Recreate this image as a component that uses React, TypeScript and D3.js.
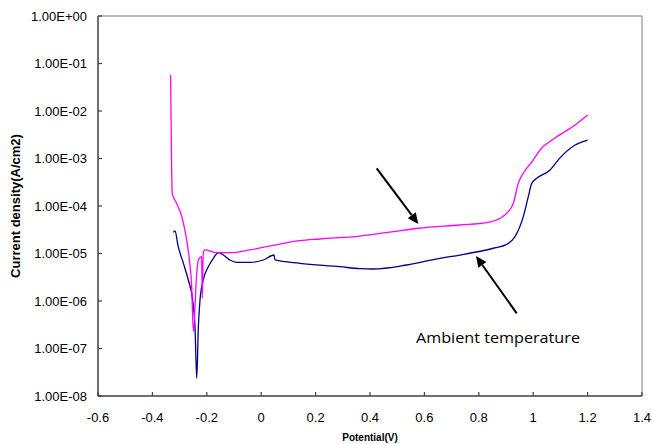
import React from "react";
import * as d3 from "d3";

const pinkPotential = [-0.333, -0.327, -0.311, -0.292, -0.276, -0.264, -0.2555, -0.2496, -0.237, -0.231, -0.219, -0.2166, -0.213, -0.2066, -0.1636, -0.115, -0.041, 0.02, 0.1415, 0.216, 0.363, 0.486, 0.578, 0.731, 0.829, 0.878, 0.9085, 0.927, 0.945, 0.9636, 1.0, 1.025, 1.08, 1.154, 1.2];
const pinkCurrent = [5.7e-2, 1.85e-4, 1.14e-4, 5.96e-5, 2.26e-5, 7.3e-6, 2.0e-6, 2.26e-7, 3.83e-6, 7.3e-6, 8.57e-6, 1.14e-6, 1.04e-5, 1.19e-5, 1.04e-5, 1.04e-5, 1.19e-5, 1.39e-5, 1.86e-5, 2.02e-5, 2.33e-5, 2.88e-5, 3.4e-5, 3.98e-5, 4.45e-5, 5.51e-5, 7.59e-5, 1.14e-4, 3.0e-4, 4.88e-4, 9.29e-4, 1.51e-3, 2.7e-3, 5.07e-3, 8.24e-3];

const bluePotential = [-0.323, -0.317, -0.305, -0.286, -0.268, -0.252, -0.2434, -0.237, -0.231, -0.225, -0.213, -0.1945, -0.176, -0.1577, -0.139, -0.115, -0.09, -0.041, 0.0077, 0.047, 0.0507, 0.1426, 0.29, 0.363, 0.411, 0.535, 0.657, 0.731, 0.853, 0.903, 0.933, 0.9636, 0.982, 0.9945, 1.013, 1.062, 1.0985, 1.154, 1.2];
const blueCurrent = [2.79e-5, 2.98e-5, 1.39e-5, 6.21e-6, 2.77e-6, 1.05e-6, 2.88e-7, 2.36e-8, 2.88e-7, 1.05e-6, 2.77e-6, 5.27e-6, 7.93e-6, 1.04e-5, 9.29e-6, 7.3e-6, 6.52e-6, 6.52e-6, 7.3e-6, 9.29e-6, 7.3e-6, 6.22e-6, 5.27e-6, 4.79e-6, 4.72e-6, 5.73e-6, 7.93e-6, 9.29e-6, 1.29e-5, 1.56e-5, 2.26e-5, 5.96e-5, 1.57e-4, 3.0e-4, 3.83e-4, 5.73e-4, 1.03e-3, 1.92e-3, 2.45e-3];

const xTicks = [-0.6, -0.4, -0.2, 0, 0.2, 0.4, 0.6, 0.8, 1, 1.2, 1.4];
const yTicks = [1, 1e-1, 1e-2, 1e-3, 1e-4, 1e-5, 1e-6, 1e-7, 1e-8];
const yTickLabels = ["1.00E+00", "1.00E-01", "1.00E-02", "1.00E-03", "1.00E-04", "1.00E-05", "1.00E-06", "1.00E-07", "1.00E-08"];

const annotationText = "Ambient temperature";

export default function App() {
  const W = 652, H = 444;
  const left = 98, right = 642, top = 16, bottom = 396;
  const x = d3.scaleLinear().domain([-0.6, 1.4]).range([left, right]);
  const y = d3.scaleLog().domain([1e-8, 1]).range([bottom, top]);

  const pinkData = pinkPotential.map((p, i) => [p, pinkCurrent[i]] as [number, number]);
  const blueData = bluePotential.map((p, i) => [p, blueCurrent[i]] as [number, number]);
  const line = d3
    .line<[number, number]>()
    .x((d) => x(d[0]))
    .y((d) => y(d[1]))
    .curve(d3.curveMonotoneX);

  const font = "'Liberation Sans', Arial, sans-serif";

  const arrow = (x1: number, y1: number, x2: number, y2: number) => {
    const ang = Math.atan2(y2 - y1, x2 - x1);
    const L = 11, Wd = 5;
    const bx = x2 - L * Math.cos(ang), by = y2 - L * Math.sin(ang);
    const p1 = [bx + Wd * Math.sin(ang), by - Wd * Math.cos(ang)];
    const p2 = [bx - Wd * Math.sin(ang), by + Wd * Math.cos(ang)];
    return (
      <g>
        <line x1={x1} y1={y1} x2={bx} y2={by} stroke="#000" strokeWidth={2} />
        <polygon points={`${x2},${y2} ${p1[0]},${p1[1]} ${p2[0]},${p2[1]}`} fill="#000" />
      </g>
    );
  };

  return (
    <svg width={W} height={H} style={{ position: "absolute", left: 0, top: 0, background: "#fff" }}>
      <rect x={0} y={0} width={W} height={H} fill="#fff" />
      {/* frame */}
      <line x1={left} y1={top} x2={right} y2={top} stroke="#a6a6a6" strokeWidth={1.5} />
      <line x1={right} y1={top} x2={right} y2={bottom} stroke="#a6a6a6" strokeWidth={1.5} />
      <line x1={left} y1={top} x2={left} y2={bottom} stroke="#404040" strokeWidth={1.5} />
      <line x1={left} y1={bottom} x2={right} y2={bottom} stroke="#404040" strokeWidth={1.5} />
      {/* y ticks */}
      {yTicks.map((t, i) => (
        <g key={"y" + i}>
          <line x1={left} x2={left + 4} y1={y(t)} y2={y(t)} stroke="#404040" strokeWidth={1.2} />
          <text x={87} y={y(t)} dy="0.35em" textAnchor="end" fontFamily={font} fontSize={13} fill="#000">
            {yTickLabels[i]}
          </text>
        </g>
      ))}
      {/* x ticks */}
      {xTicks.map((t, i) => (
        <g key={"x" + i}>
          <line x1={x(t)} x2={x(t)} y1={bottom} y2={bottom - 4} stroke="#404040" strokeWidth={1.2} />
          <text x={x(t)} y={417} dy="0.35em" textAnchor="middle" fontFamily={font} fontSize={13} fill="#000">
            {String(t)}
          </text>
        </g>
      ))}
      {/* axis titles */}
      <text
        transform={`translate(15,${(top + bottom) / 2}) rotate(-90)`}
        textAnchor="middle"
        dy="0.35em"
        fontFamily={font}
        fontWeight="bold"
        fontSize={13}
      >
        Current density(A/cm2)
      </text>
      <text x={(left + right) / 2} y={437} dy="0.35em" textAnchor="middle" fontFamily={font} fontWeight="bold" fontSize={10}>
        Potential(V)
      </text>
      {/* series */}
      <path d={line(blueData) || ""} fill="none" stroke="#000080" strokeWidth={1.3} />
      <path d={line(pinkData) || ""} fill="none" stroke="#ff00ff" strokeWidth={1.3} />
      {/* annotations */}
      {arrow(376.7, 168.3, 418.3, 224)}
      {arrow(516.7, 313.3, 476, 256)}
      <text x={416} y={338} dy="0.35em" fontFamily="'Open Sans', 'Liberation Sans', sans-serif" fontSize={15} textLength={164} lengthAdjust="spacingAndGlyphs" fill="#000">
        {annotationText}
      </text>
    </svg>
  );
}
